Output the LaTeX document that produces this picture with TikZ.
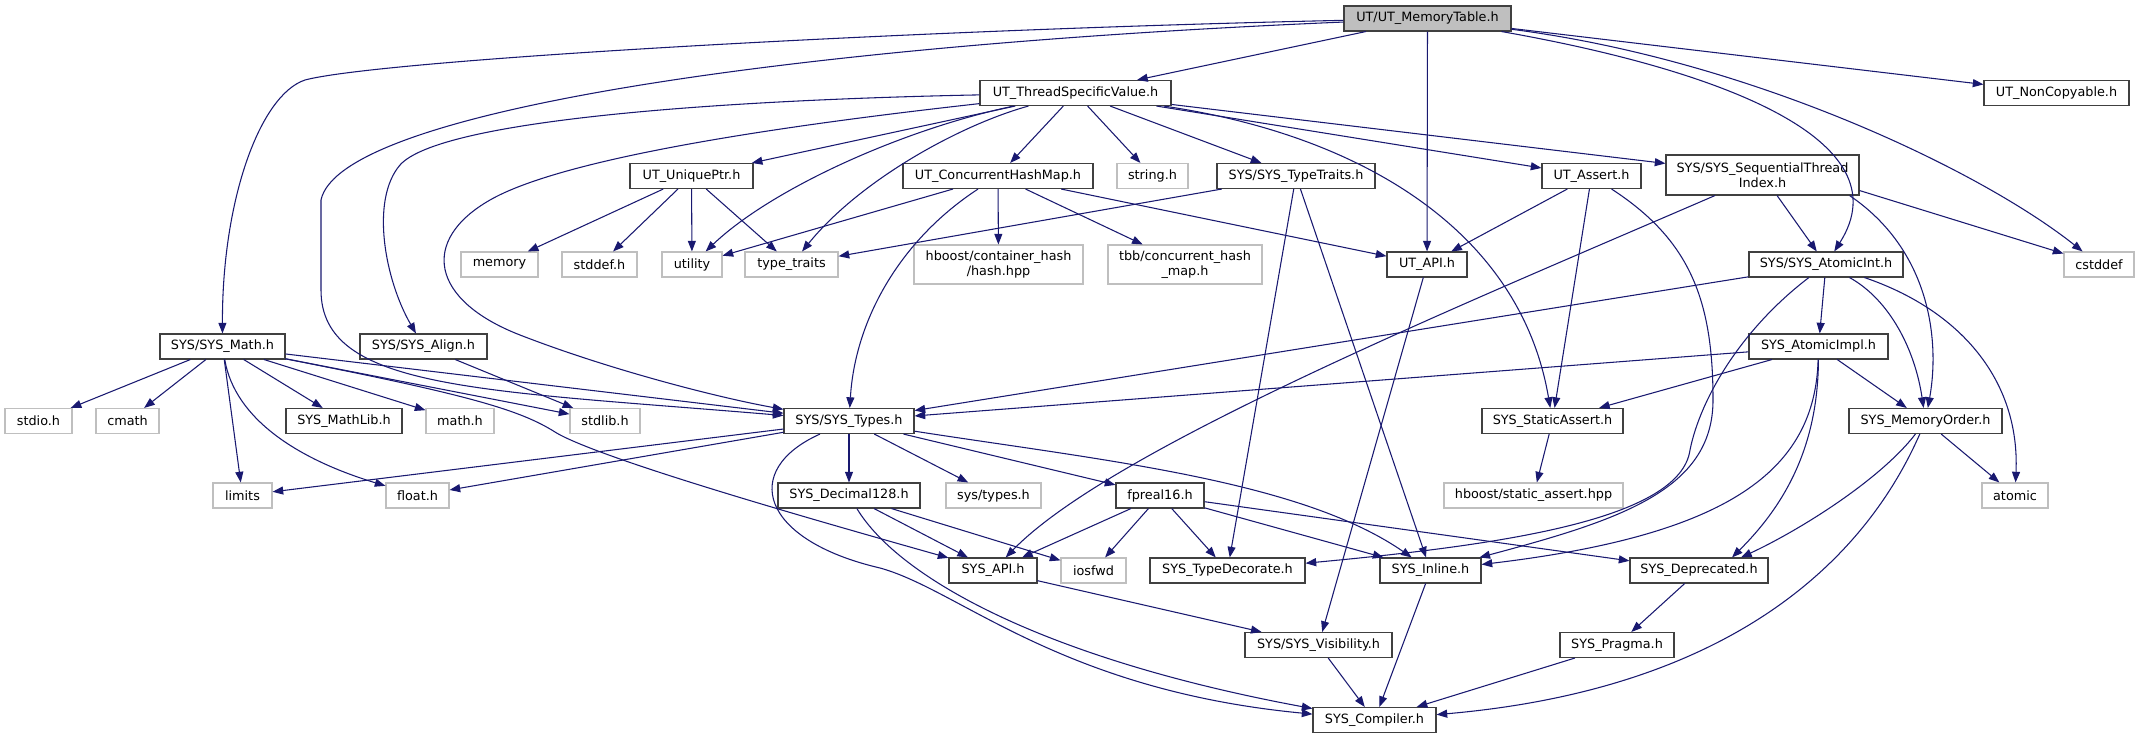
\documentclass[tikz,border=0pt]{standalone}
\usepackage{fontspec}
\setmainfont{DejaVu Sans}
\usetikzlibrary{arrows.meta,calc}
\definecolor{edgeblue}{HTML}{191970}
\tikzset{
  inc/.style={draw=black!75, fill=white, line width=0.8pt, minimum height=18.75pt,
    inner sep=2pt, align=center, font=\fontsize{9.6}{11}\selectfont},
  ext/.style={inc, draw=black!25},
  rootbox/.style={inc, fill=black!25},
  wd/.style={minimum width=#1*0.75pt},
  tall/.style={minimum height=#1*0.75pt},
  dep/.style={draw=edgeblue, line width=0.8pt, -{Triangle[length=8pt,width=6pt]}},
}

\begin{document}
\begin{tikzpicture}[x=0.75pt,y=-0.75pt]
\useasboundingbox (0,0) rectangle (2145,739);

% rank 0 and 1
\node[rootbox, wd=167] (root) at (1427.5,18.5) {UT/UT\_MemoryTable.h};
\node[inc, wd=191] (tsv) at (1075.5,93) {UT\_ThreadSpecificValue.h};
\node[inc, wd=145] (noncopy) at (2056.5,93) {UT\_NonCopyable.h};

% rank 2
\node[inc, wd=123] (uptr) at (691.5,176) {UT\_UniquePtr.h};
\node[inc, wd=190] (chm) at (998,176) {UT\_ConcurrentHashMap.h};
\node[ext, wd=71] (stringh) at (1152.5,176) {string.h};
\node[inc, wd=158] (ttraits) at (1296,176) {SYS/SYS\_TypeTraits.h};
\node[inc, wd=99] (uassert) at (1591.5,176) {UT\_Assert.h};
\node[inc, wd=193, tall=40] (seqidx) at (1762.5,175) {SYS/SYS\_SequentialThread\\Index.h};

% rank 3
\node[ext, wd=77] (memory) at (499.5,264.5) {memory};
\node[ext, wd=75] (stddef) at (599.5,264.5) {stddef.h};
\node[ext, wd=60] (utility) at (692,264.5) {utility};
\node[ext, wd=93] (typetraits) at (791.5,264.5) {type\_traits};
\node[ext, wd=169, tall=39] (hashhpp) at (998.5,264.5) {hboost/container\_hash\\/hash.hpp};
\node[ext, wd=154, tall=39] (tbbmap) at (1185,264.5) {tbb/concurrent\_hash\\\_map.h};
\node[inc, wd=80] (utapi) at (1427,264.5) {UT\_API.h};
\node[inc, wd=154] (atomicint) at (1826,264.5) {SYS/SYS\_AtomicInt.h};
\node[ext, wd=70] (cstddef) at (2099,264.5) {cstddef};

% rank 4
\node[inc, wd=125] (smath) at (222.5,346.5) {SYS/SYS\_Math.h};
\node[inc, wd=127] (salign) at (423.5,346.5) {SYS/SYS\_Align.h};
\node[inc, wd=139] (atomicimpl) at (1818.5,346.5) {SYS\_AtomicImpl.h};

% rank 5
\node[ext, wd=67] (stdio) at (38.5,421) {stdio.h};
\node[ext, wd=63] (cmath) at (127.5,421) {cmath};
\node[inc, wd=116] (mathlib) at (344,421) {SYS\_MathLib.h};
\node[ext, wd=68] (mathh) at (460,421) {math.h};
\node[ext, wd=70] (stdlib) at (605,421) {stdlib.h};
\node[inc, wd=130] (stypes) at (849,421) {SYS/SYS\_Types.h};
\node[inc, wd=141] (staticassert) at (1552.5,421) {SYS\_StaticAssert.h};
\node[inc, wd=153] (memorder) at (1925.5,421) {SYS\_MemoryOrder.h};

% rank 6
\node[ext, wd=59] (limits) at (242.5,495.5) {limits};
\node[ext, wd=63] (floath) at (417.5,495.5) {float.h};
\node[inc, wd=142] (decimal) at (849,495.5) {SYS\_Decimal128.h};
\node[ext, wd=95] (systypes) at (993.5,495.5) {sys/types.h};
\node[inc, wd=88] (fpreal) at (1160,495.5) {fpreal16.h};
\node[ext, wd=179] (hbstatic) at (1533.5,495.5) {hboost/static\_assert.hpp};
\node[ext, wd=66] (atomich) at (2015,495.5) {atomic};

% rank 7 to 9
\node[inc, wd=88] (sapi) at (993,570.5) {SYS\_API.h};
\node[ext, wd=65] (iosfwd) at (1093.5,570.5) {iosfwd};
\node[inc, wd=155] (tdecor) at (1227.5,570.5) {SYS\_TypeDecorate.h};
\node[inc, wd=101] (sinline) at (1430.5,570.5) {SYS\_Inline.h};
\node[inc, wd=138] (deprec) at (1699,570.5) {SYS\_Deprecated.h};
\node[inc, wd=147] (visib) at (1318.5,645) {SYS/SYS\_Visibility.h};
\node[inc, wd=114] (pragma) at (1617,645) {SYS\_Pragma.h};
\node[inc, wd=123] (compiler) at (1374.5,720) {SYS\_Compiler.h};

% root includes
\draw[dep] (root) .. controls (900,30) and (380,60) .. (305,80)
  .. controls (260,95) and (222,200) .. (smath);
\draw[dep] (root) .. controls (800,45) and (340,110) .. (321,200) -- (321,290)
  .. controls (321,390) and (480,390) .. (stypes);
\draw[dep] (root) -- (tsv);
\draw[dep] (root) -- (utapi);
\draw[dep] (root) .. controls (1720,70) and (1905,140) .. (atomicint);
\draw[dep] (root) -- (noncopy);
\draw[dep] (root) .. controls (1750,60) and (1980,170) .. (cstddef);

% UT_ThreadSpecificValue.h
\draw[dep] (tsv) .. controls (720,100) and (440,120) .. (400,165)
  .. controls (370,200) and (385,280) .. (salign);
\draw[dep] (tsv) .. controls (760,128) and (560,160) .. (490,200)
  .. controls (420,240) and (430,300) .. (520,335)
  .. controls (610,370) and (720,398) .. (stypes);
\draw[dep] (tsv) -- (uptr);
\draw[dep] (tsv) .. controls (900,130) and (770,190) .. (utility);
\draw[dep] (tsv) .. controls (960,125) and (860,180) .. (typetraits);
\draw[dep] (tsv) -- (chm);
\draw[dep] (tsv) -- (stringh);
\draw[dep] (tsv) -- (ttraits);
\draw[dep] (tsv) -- (uassert);
\draw[dep] (tsv) -- (seqidx);
\draw[dep] (tsv) .. controls (1360,135) and (1520,230) .. (staticassert);

% rank 2 includes
\draw[dep] (uptr) -- (memory);
\draw[dep] (uptr) -- (stddef);
\draw[dep] (uptr) -- (utility);
\draw[dep] (uptr) -- (typetraits);
\draw[dep] (chm) -- (utility);
\draw[dep] (chm) .. controls (900,240) and (855,320) .. (stypes);
\draw[dep] (chm) -- (hashhpp);
\draw[dep] (chm) -- (tbbmap);
\draw[dep] (chm) -- (utapi);
\draw[dep] (ttraits) -- (typetraits);
\draw[dep] (ttraits) -- (tdecor);
\draw[dep] (ttraits) -- (sinline);
\draw[dep] (uassert) -- (utapi);
\draw[dep] (uassert) -- (staticassert);
\draw[dep] (uassert) .. controls (1690,240) and (1713,300) .. (1713,400)
  .. controls (1713,490) and (1620,520) .. (sinline);
\draw[dep] (seqidx) .. controls (1450,310) and (1110,450) .. (sapi);
\draw[dep] (seqidx) -- (atomicint);
\draw[dep] ($(seqidx.south east)+(-10,0)$) .. controls (1930,250) and (1940,340) .. (memorder);
\draw[dep] ($(seqidx.south east)+(0,-5)$) -- (cstddef);

% rank 3 and 4 includes
\draw[dep] (utapi) -- (visib);
\draw[dep] (atomicint) -- (stypes);
\draw[dep] (atomicint) -- (atomicimpl);
\draw[dep] (atomicint) .. controls (1890,300) and (1915,350) .. (memorder);
\draw[dep] (atomicint) .. controls (1960,310) and (2020,380) .. (atomich);
\draw[dep] (atomicint) .. controls (1740,330) and (1700,400) .. (1690,450)
  .. controls (1680,520) and (1500,545) .. (tdecor);
\draw[dep] (atomicimpl) -- (stypes);
\draw[dep] (atomicimpl) -- (staticassert);
\draw[dep] (atomicimpl) -- (memorder);
\draw[dep] (atomicimpl) .. controls (1815,470) and (1730,535) .. (sinline);
\draw[dep] (atomicimpl) .. controls (1818,440) and (1790,500) .. ($(deprec.north)+(33,0)$);

% SYS_Math.h and SYS_Align.h
\draw[dep] (smath) -- (stdio);
\draw[dep] (smath) -- (cmath);
\draw[dep] (smath) -- (limits);
\draw[dep] (smath) .. controls (235,420) and (300,460) .. (floath);
\draw[dep] (smath) -- (mathlib);
\draw[dep] (smath) -- (mathh);
\draw[dep] (smath) -- (stdlib);
\draw[dep] (smath) -- (stypes);
\draw[dep] (smath) .. controls (470,395) and (520,410) .. (555,432)
  .. controls (600,460) and (850,530) .. (sapi);
\draw[dep] (salign) -- (stdlib);

% SYS_Types.h
\draw[dep] (stypes) -- (limits);
\draw[dep] (stypes) -- (floath);
\draw[dep] (stypes) -- (decimal);
\draw[dep] (stypes) -- (systypes);
\draw[dep] (stypes) -- (fpreal);
\draw[dep] (stypes) .. controls (1100,460) and (1300,480) .. (sinline);
\draw[dep] (stypes) .. controls (740,470) and (760,540) .. (880,568)
  .. controls (960,590) and (1060,690) .. (compiler);

% lower ranks
\draw[dep] (staticassert) -- (hbstatic);
\draw[dep] (memorder) -- (atomich);
\draw[dep] (memorder) .. controls (1880,480) and (1800,530) .. ($(deprec.north)+(42,0)$);
\draw[dep] (memorder) .. controls (1860,570) and (1720,690) .. (compiler);
\draw[dep] (decimal) -- (sapi);
\draw[dep] (decimal) -- (iosfwd);
\draw[dep] (decimal) .. controls (900,580) and (1050,660) .. (compiler);
\draw[dep] (fpreal) -- (sapi);
\draw[dep] (fpreal) -- (iosfwd);
\draw[dep] (fpreal) -- (tdecor);
\draw[dep] (fpreal) -- (sinline);
\draw[dep] (fpreal) -- (deprec);
\draw[dep] (sapi) -- (visib);
\draw[dep] (sinline) -- (compiler);
\draw[dep] (deprec) -- (pragma);
\draw[dep] (visib) -- (compiler);
\draw[dep] (pragma) -- (compiler);
\end{tikzpicture}
\end{document}
